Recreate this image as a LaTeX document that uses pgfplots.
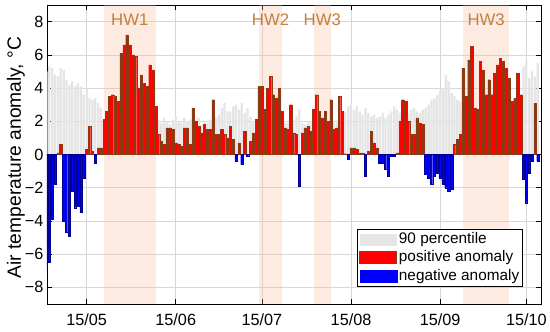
\documentclass[border=0pt]{standalone}
\usepackage{fontspec}
\setmainfont{Liberation Sans}
\usepackage{pgfplots}
\usepackage{pgfplotstable}
\pgfplotsset{compat=1.18}
\definecolor{hwfill}{RGB}{248,190,160}
\definecolor{hwtext}{RGB}{192,128,64}
\definecolor{pgray}{RGB}{229,229,229}
\definecolor{redge}{RGB}{140,60,20}
\definecolor{bedge}{RGB}{0,0,150}
\definecolor{gridc}{RGB}{215,215,215}

\pgfplotstableread{
d p a
1 5.0 -6.9
2 5.3 -6.5
3 5.2 -3.9
4 4.8 -1.8
5 4.7 0.1
6 5.2 0.6
7 5.1 -4.0
8 4.5 -4.7
9 4.2 -4.9
10 4.4 -2.2
11 4.1 -3.2
12 4.3 -3.1
13 4.1 -3.5
14 3.6 -1.4
15 3.9 0.3
16 3.4 1.7
17 3.3 0.2
18 3.4 -0.5
19 3.1 0.4
20 2.8 0.4
21 2.0 2.1
22 2.0 2.6
23 2.0 3.5
24 2.0 3.6
25 2.0 3.5
26 2.0 3.2
27 2.0 6.1
28 2.0 6.6
29 2.0 7.2
30 2.0 6.6
31 2.0 6.0
32 2.0 5.9
33 2.0 4.0
34 2.0 4.8
35 2.0 4.3
36 2.0 4.1
37 2.0 5.4
38 2.0 5.1
39 2.0 2.9
40 2.1 1.2
41 1.9 0.8
42 2.2 0.6
43 2.0 1.6
44 1.8 1.6
45 2.1 1.5
46 2.3 0.7
47 2.0 0.6
48 1.9 0.5
49 2.2 1.6
50 2.0 1.6
51 2.1 0.6
52 1.9 2.8
53 2.0 2.0
54 2.2 1.7
55 1.8 1.3
56 2.0 1.8
57 1.9 1.5
58 2.1 1.5
59 2.0 3.3
60 2.2 1.2
61 2.4 1.2
62 2.8 1.5
63 3.1 1.2
64 2.6 1.0
65 2.6 1.7
66 2.9 0.9
67 3.0 -0.4
68 2.7 0.7
69 3.1 -0.6
70 2.5 1.4
71 2.8 -0.1
72 2.3 0.8
73 2.0 1.3
74 2.1 2.1
75 2.2 4.1
76 2.0 4.1
77 2.0 2.7
78 2.1 4.0
79 2.0 4.7
80 2.0 3.6
81 2.0 3.4
82 2.1 4.0
83 2.0 2.6
84 1.9 1.6
85 1.9 1.5
86 2.0 3.0
87 2.1 1.3
88 2.3 1.2
89 2.7 -1.9
90 1.9 1.3
91 1.8 1.6
92 2.0 1.7
93 1.9 1.4
94 2.0 2.7
95 2.0 3.6
96 2.0 2.6
97 2.0 2.2
98 2.0 2.6
99 2.0 2.0
100 2.0 3.3
101 1.9 1.5
102 2.1 1.6
103 2.0 3.5
104 2.2 2.6
105 2.6 0.05
106 2.9 -0.3
107 3.1 0.4
108 2.7 0.4
109 2.9 0.3
110 2.6 0.1
111 2.4 0.1
112 2.8 -1.3
113 2.5 0.2
114 2.3 1.4
115 2.4 0.7
116 2.2 0.4
117 2.3 -0.5
118 2.5 -0.5
119 2.2 -0.9
120 2.4 -1.3
121 2.6 -0.1
122 2.9 -0.1
123 2.7 0.1
124 2.5 2.0
125 2.6 3.3
126 2.6 3.2
127 2.5 2.0
128 2.7 1.2
129 2.8 1.2
130 2.6 2.2
131 2.5 1.9
132 2.7 1.8
133 2.8 -1.2
134 3.0 -1.4
135 3.3 -1.8
136 3.4 -1.3
137 3.6 -1.1
138 3.8 -1.4
139 4.0 -1.8
140 4.8 -2.0
141 4.4 -2.2
142 3.7 -2.1
143 3.5 0.6
144 3.3 0.9
145 3.2 1.2
146 2.5 5.2
147 2.5 3.5
148 2.5 5.7
149 2.5 6.5
150 2.5 2.8
151 2.5 2.7
152 2.5 5.6
153 2.5 5.1
154 2.5 3.6
155 2.5 4.5
156 2.5 3.6
157 2.5 4.9
158 2.5 5.4
159 2.5 5.8
160 2.5 5.6
161 2.5 5.2
162 2.5 4.6
163 2.5 3.2
164 2.5 3.4
165 2.5 4.9
166 2.5 3.6
167 5.3 -1.5
168 5.6 -2.9
169 4.6 -1.1
170 5.0 -0.4
171 4.7 3.1
172 5.5 -0.4
}\data

\begin{document}
\begin{tikzpicture}
\path[use as bounding box] (0,0) rectangle (550bp,332bp);
\begin{axis}[
  at={(47bp,28bp)}, anchor=south west,
  width=494bp, height=299bp, scale only axis,
  xmin=1.2, xmax=173.1, ymin=-9, ymax=9,
  xtick={15,46,76,107,138,168},
  xticklabels={15/05,15/06,15/07,15/08,15/09,15/10},
  ytick={-8,-6,-4,-2,0,2,4,6,8},
  yticklabels={−8,−6,−4,−2,0,2,4,6,8},
  tick align=inside,
  xtick pos=both, ytick pos=both,
  xticklabel pos=lower, yticklabel pos=left,
  major tick length=5bp,
  grid=major,
  major grid style={draw=gridc, line width=0.5bp},
  axis line style={black, line width=0.6bp},
  tick style={black, line width=0.6bp},
  ticklabel style={font=\fontsize{16.3}{19}\selectfont},
  xticklabel style={yshift=-6bp},
  ylabel={Air temperature anomaly, °C},
  ylabel style={font=\fontsize{19.3}{22}\selectfont, at={(rel axis cs:-0.063,0.49)}, anchor=center},
  legend style={at={(0.9636,0.0569)}, anchor=south east, draw=black, line width=0.6bp, fill=white,
    inner xsep=2bp, inner ysep=1.5bp,
    nodes={inner xsep=1.5bp, inner ysep=1.2bp, text height=12bp, text depth=3.8bp, font=\fontsize{15.4}{18}\selectfont},
    cells={anchor=west}},
  legend cell align=left,
]
\fill[hwfill, fill opacity=0.3] (axis cs:21,-9) rectangle (axis cs:39,9);
\fill[hwfill, fill opacity=0.3] (axis cs:75,-9) rectangle (axis cs:83,9);
\fill[hwfill, fill opacity=0.3] (axis cs:94,-9) rectangle (axis cs:100,9);
\fill[hwfill, fill opacity=0.3] (axis cs:146,-9) rectangle (axis cs:162,9);

\addplot[ybar, bar width=0.8, bar shift=0pt, fill=pgray, draw=none,
  legend image code/.code={\fill[pgray] (0bp,-6bp) rectangle (37bp,6bp);}]
  table[x=d,y=p]{\data};
\addlegendentry{90 percentile}
\addplot[ybar, bar width=0.8, bar shift=0pt, fill=red, draw=redge, line width=0.3bp,
  restrict y to domain=0:20,
  legend image code/.code={\filldraw[fill=red, draw=redge, line width=1bp] (0bp,-6bp) rectangle (37bp,6bp);}]
  table[x=d,y=a]{\data};
\addlegendentry{positive anomaly}
\addplot[ybar, bar width=0.8, bar shift=0pt, fill=blue, draw=bedge, line width=0.3bp,
  restrict y to domain=-20:0,
  legend image code/.code={\fill[blue] (0bp,-6bp) rectangle (37bp,6bp);}]
  table[x=d,y=a]{\data};
\addlegendentry{negative anomaly}

\node[text=hwtext, font=\fontsize{16.8}{19}\selectfont] at (axis cs:30,8.1) {HW1};
\node[text=hwtext, font=\fontsize{16.8}{19}\selectfont] at (axis cs:79,8.1) {HW2};
\node[text=hwtext, font=\fontsize{16.8}{19}\selectfont] at (axis cs:97,8.1) {HW3};
\node[text=hwtext, font=\fontsize{16.8}{19}\selectfont] at (axis cs:154,8.1) {HW3};
\end{axis}
\end{tikzpicture}
\end{document}
